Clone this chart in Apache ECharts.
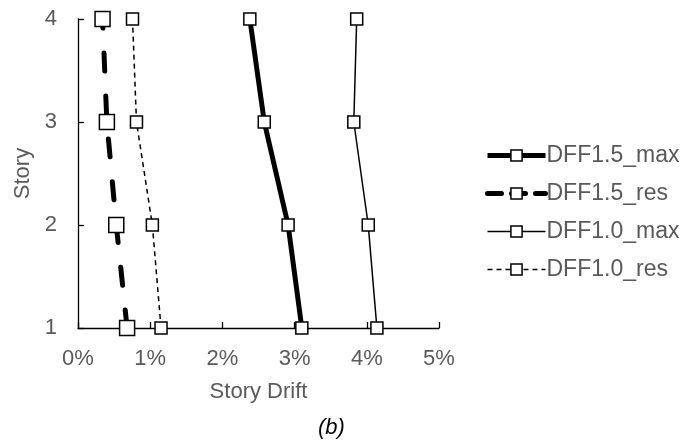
<!DOCTYPE html>
<html>
<head>
<meta charset="utf-8">
<script src="https://cdn.jsdelivr.net/npm/echarts@6/dist/echarts.min.js"></script>
<style>
html,body{margin:0;padding:0;background:#fff;}
#chart{width:686px;height:442px;}
</style>
</head>
<body>
<div id="chart"></div>
<script>
// story levels and drift values (%)
var stories = [1, 2, 3, 4];
var dff15Max = [3.10, 2.91, 2.58, 2.38];
var dff15Res = [0.68, 0.53, 0.40, 0.34];
var dff10Max = [4.14, 4.02, 3.82, 3.86];
var dff10Res = [1.15, 1.03, 0.81, 0.755];
var seriesNames = ['DFF1.5_max', 'DFF1.5_res', 'DFF1.0_max', 'DFF1.0_res'];

var chart = echarts.init(document.getElementById('chart'));
var font = 'Liberation Sans, Arial, sans-serif';
var grey = '#595959';

// line looks, shared by series and legend
var looks = [
    { width: 5, type: 'solid', cap: 'butt', size: 12 },
    { width: 5, type: [18, 25], cap: 'round', size: 15 },
    { width: 1.5, type: 'solid', cap: 'butt', size: 12 },
    { width: 1.5, type: [5, 4], cap: 'butt', size: 12 }
];

function pairs(vals) {
    return vals.map(function(v, i) { return [v, stories[i]]; });
}

function makeSeries(idx, vals) {
    var lk = looks[idx];
    return {
        name: seriesNames[idx],
        type: 'line',
        data: pairs(vals),
        symbol: 'rect',
        symbolSize: lk.size,
        showSymbol: true,
        lineStyle: { color: '#000', width: lk.width, type: lk.type, cap: lk.cap },
        itemStyle: { color: '#fff', borderColor: '#000', borderWidth: 1.5 },
        emphasis: { disabled: true },
        animation: false
    };
}

var legendData = seriesNames.map(function(n, i) {
    var lk = looks[i];
    return {
        name: n,
        lineStyle: { color: '#000', width: lk.width, type: i == 1 ? [14, 10] : lk.type, cap: lk.cap },
        itemStyle: { color: '#fff', borderColor: '#000', borderWidth: 1.5 }
    };
});

var option = {
    backgroundColor: '#fff',
    textStyle: { fontFamily: font },
    grid: { left: 78, right: 247, top: 19, bottom: 114 },
    title: {
        text: '(b)',
        left: 313,
        top: 412,
        textStyle: { fontFamily: font, fontSize: 22, fontStyle: 'italic', fontWeight: 'normal', color: '#000' }
    },
    legend: {
        orient: 'vertical',
        left: 480,
        top: 139,
        itemWidth: 58,
        itemHeight: 14,
        itemGap: 15,
        textStyle: { fontFamily: font, fontSize: 23, color: grey, lineHeight: 23, padding: [0, 0, 0, -4] },
        data: legendData
    },
    xAxis: {
        type: 'value',
        min: 0,
        max: 5,
        interval: 1,
        name: 'Story Drift',
        nameLocation: 'middle',
        nameGap: 53,
        nameTextStyle: { fontFamily: font, fontSize: 22, color: grey },
        axisLine: { show: true, lineStyle: { color: '#000', width: 1.3 } },
        axisTick: { show: true, inside: true, length: 6, lineStyle: { color: '#000', width: 1.3 } },
        axisLabel: { fontFamily: font, fontSize: 22, color: grey, margin: 20, formatter: '{value}%' },
        splitLine: { show: false }
    },
    yAxis: {
        type: 'value',
        min: 1,
        max: 4,
        interval: 1,
        name: 'Story',
        nameLocation: 'middle',
        nameGap: 41,
        nameTextStyle: { fontFamily: font, fontSize: 22, color: grey },
        axisLine: { show: true, lineStyle: { color: '#000', width: 1.3 } },
        axisTick: { show: true, inside: true, length: 6, lineStyle: { color: '#000', width: 1.3 } },
        axisLabel: { fontFamily: font, fontSize: 22, color: grey, margin: 21 },
        splitLine: { show: false }
    },
    series: [
        makeSeries(0, dff15Max),
        makeSeries(1, dff15Res),
        makeSeries(2, dff10Max),
        makeSeries(3, dff10Res)
    ]
};

chart.setOption(option);
</script>
</body>
</html>
